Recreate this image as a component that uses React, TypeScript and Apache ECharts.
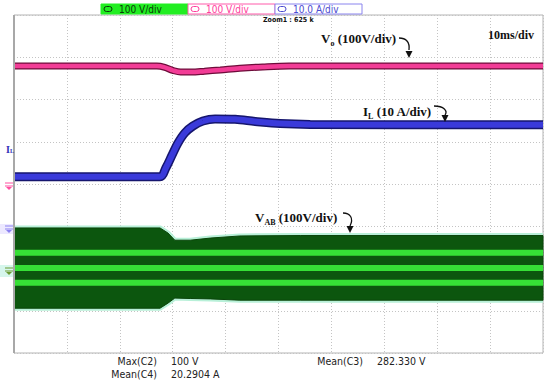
import React, { useEffect, useRef } from "react";
import * as echarts from "echarts";

// time axis in ms (10 ms/div), vertical values in screen divisions (8 div, -4..4)
const xTicks = [0, 10, 20, 30, 40, 50, 60, 70, 80, 90, 100];

const timeVo = [0, 27.0, 28.5, 30.0, 31.5, 33.5, 36.0, 39.0, 42.7, 47.0, 52.0, 100];
const vo = [2.79, 2.79, 2.76, 2.69, 2.65, 2.65, 2.67, 2.7, 2.74, 2.77, 2.79, 2.79];

const timeIL = [0, 27.6, 28.7, 29.9, 31.0, 32.3, 33.8, 35.7, 38.0, 41.8, 45.6, 50.3, 56.0, 100];
const il = [0.17, 0.17, 0.38, 0.69, 0.97, 1.21, 1.37, 1.49, 1.54, 1.53, 1.48, 1.43, 1.41, 1.4];

const timeVab = [0, 27.6, 29.1, 30.4, 33.3, 37.1, 42.7, 54.1, 100];
const vabTop = [-1.04, -1.04, -1.16, -1.33, -1.33, -1.28, -1.23, -1.22, -1.22];
const vabBottom = [-2.94, -2.94, -2.82, -2.7, -2.71, -2.72, -2.75, -2.75, -2.75];
const vabStripes = [-1.63, -1.99, -2.34];

const channelScales = ["100 V/div", "100 V/div", "10.0 A/div"];
const measureNames = ["Max(C2)", "Mean(C4)", "Mean(C3)"];
const measureValues = ["100 V", "20.2904 A", "282.330 V"];

const pair = (t: number[], v: number[]) => t.map((x, i) => [x, v[i]]);

const SANS = "'DejaVu Sans Condensed', 'Liberation Sans Narrow', 'DejaVu Sans', sans-serif";
const SERIF = "'Liberation Serif', 'DejaVu Serif', serif";

function arrow(x1: number, y1: number, cx1: number, cy1: number, cx2: number, cy2: number, x2: number, y2: number, tipX: number, tipY: number) {
  return [
    {
      type: "bezierCurve",
      shape: { x1, y1, cpx1: cx1, cpy1: cy1, cpx2: cx2, cpy2: cy2, x2, y2 },
      style: { stroke: "#111", lineWidth: 1.3, fill: null },
      z: 20,
    },
    {
      type: "polygon",
      shape: { points: [[tipX - 3.5, tipY - 7], [tipX + 3.5, tipY - 7], [tipX, tipY]] },
      style: { fill: "#111" },
      z: 20,
    },
  ];
}

function ground(x: number, y: number, color: string) {
  return [
    { type: "line", shape: { x1: x - 4, y1: y - 3, x2: x + 4, y2: y - 3 }, style: { stroke: color, lineWidth: 1 }, z: 20 },
    { type: "line", shape: { x1: x - 4, y1: y, x2: x + 4, y2: y }, style: { stroke: color, lineWidth: 1 }, z: 20 },
    { type: "polygon", shape: { points: [[x - 3, y + 1], [x + 3, y + 1], [x, y + 4]] }, style: { fill: color }, z: 20 },
  ];
}

export default function App() {
  const ref = useRef<HTMLDivElement>(null);
  useEffect(() => {
    if (!ref.current) return;
    const chart = echarts.init(ref.current, null, { renderer: "svg" });
    const axisCommon = {
      type: "value",
      axisLine: { show: false },
      axisTick: { show: false },
      axisLabel: { show: false },
      splitLine: { show: true, lineStyle: { color: "#c4c4c4", type: [1, 2], width: 1 } },
    };
    const boxColors = [
      { fill: "#22ee22", stroke: "#22ee22", text: "#0a3a0a" },
      { fill: "#ffffff", stroke: "#ff5aaa", text: "#ff3c9c" },
      { fill: "#ffffff", stroke: "#8a84ee", text: "#4a4ad0" },
    ];
    const boxes: any[] = [];
    channelScales.forEach((s, i) => {
      const x0 = 101 + i * 87;
      const c = boxColors[i];
      boxes.push({ type: "rect", shape: { x: x0, y: 4, width: 87, height: 10 }, style: { fill: c.fill, stroke: c.stroke, lineWidth: 1 }, z: 20 });
      boxes.push({ type: "rect", shape: { x: x0 + 3, y: 6.5, width: 8, height: 5, r: 2.5 }, style: { fill: null, stroke: c.text, lineWidth: 1 }, z: 21 });
      boxes.push({ type: "text", x: x0 + 18, y: 9.5, style: { text: s, font: `10px ${SANS}`, fill: c.text, textVerticalAlign: "middle" }, z: 21 });
    });
    const mStyle = (text: string, align: string) => ({
      text,
      font: `10.5px ${SANS}`,
      fill: "#222",
      textAlign: align,
      textVerticalAlign: "middle",
    });
    const measures: any[] = [
      { type: "text", x: 157, y: 361, style: mStyle(measureNames[0], "right") },
      { type: "text", x: 171, y: 361, style: mStyle(measureValues[0], "left") },
      { type: "text", x: 157, y: 374, style: mStyle(measureNames[1], "right") },
      { type: "text", x: 171, y: 374, style: mStyle(measureValues[1], "left") },
      { type: "text", x: 363, y: 361, style: mStyle(measureNames[2], "right") },
      { type: "text", x: 377, y: 361, style: mStyle(measureValues[2], "left") },
    ];
    const richLabel = (x: number, y: number, main: string, sub: string, rest: string) => ({
      type: "text",
      x,
      y,
      z: 20,
      style: {
        text: `{a|${main}}{s|${sub}}{a|${rest}}`,
        textVerticalAlign: "middle",
        rich: {
          a: { font: `bold 13px ${SERIF}`, fill: "#111", lineHeight: 16, verticalAlign: "bottom" },
          s: { font: `bold 8px ${SERIF}`, fill: "#111", lineHeight: 16, verticalAlign: "bottom", padding: [0, 0, -2, 0] },
        },
      },
    });

    const vabTopPts = pair(timeVab, vabTop);
    const vabBottomPts = pair(timeVab, vabBottom);

    const option: any = {
      animation: false,
      backgroundColor: "#ffffff",
      grid: { left: 14, top: 15, right: 7, bottom: 29, show: true, borderColor: "#b4b4b4", borderWidth: 1 },
      xAxis: { ...axisCommon, min: xTicks[0], max: xTicks[xTicks.length - 1], interval: 10 },
      yAxis: { ...axisCommon, min: -4, max: 4, interval: 1 },
      series: [
        // VAB halo
        { type: "line", data: vabTopPts, symbol: "none", z: 1, lineStyle: { color: "#b8f0d8", width: 5 } },
        { type: "line", data: vabBottomPts, symbol: "none", z: 1, lineStyle: { color: "#b8f0d8", width: 5 } },
        // VAB band (polygon between bottom and top envelopes)
        {
          type: "custom",
          z: 2,
          data: [[timeVab[0], vabTop[0]]],
          renderItem: (params: any, api: any) => {
            const pts = vabTopPts.map((p) => api.coord(p)).concat(vabBottomPts.slice().reverse().map((p) => api.coord(p)));
            return {
              type: "polygon",
              shape: { points: pts },
              style: { fill: "#0c560e", stroke: "#0a440a", lineWidth: 1 },
            };
          },
        },
        // VAB bright stripes
        ...vabStripes.map((v) => ({
          type: "line",
          data: [[xTicks[0], v], [xTicks[xTicks.length - 1], v]],
          symbol: "none",
          z: 3,
          lineStyle: { color: "#36e036", width: 6 },
        })),
        // IL
        { type: "line", data: pair(timeIL, il), symbol: "none", smooth: 0.35, z: 4, lineStyle: { color: "#16166e", width: 9 } },
        { type: "line", data: pair(timeIL, il), symbol: "none", smooth: 0.35, z: 5, lineStyle: { color: "#3a3ada", width: 6 } },
        // Vo
        { type: "line", data: pair(timeVo, vo), symbol: "none", smooth: 0.35, z: 6, lineStyle: { color: "#6e0c3a", width: 7 } },
        { type: "line", data: pair(timeVo, vo), symbol: "none", smooth: 0.35, z: 7, lineStyle: { color: "#f23c96", width: 4.5 } },
      ],
      graphic: [
        { type: "line", shape: { x1: 14, y1: 15, x2: 14, y2: 353 }, style: { stroke: "#a8a8a8", lineWidth: 2 }, z: 19 },
        ...boxes,
        { type: "text", x: 263, y: 20, z: 20, style: { text: "Zoom1 : 625 k", font: `bold 7px ${SANS}`, fill: "#111", textVerticalAlign: "middle" } },
        richLabel(321, 37, "V", "o", " (100V/div)"),
        { type: "text", x: 488, y: 35, z: 20, style: { text: "10ms/div", font: `bold 12px ${SERIF}`, fill: "#111", textVerticalAlign: "middle" } },
        richLabel(363, 110, "I", "L", " (10 A/div)"),
        richLabel(255, 216, "V", "AB", " (100V/div)"),
        ...arrow(399, 38, 406, 38, 410, 42, 409, 50, 409, 58),
        ...arrow(434, 106, 444, 106, 448, 111, 445, 115, 445, 122),
        ...arrow(343, 213, 350, 213, 354, 218, 350, 226, 350, 233),
        // left channel markers
        { type: "rect", shape: { x: 0, y: 224, width: 13, height: 10 }, style: { fill: "#ece8ff" }, z: 18 },
        { type: "rect", shape: { x: 0, y: 265, width: 13, height: 12 }, style: { fill: "#d6f6ec" }, z: 18 },
        {
          type: "text",
          x: 6,
          y: 148,
          z: 20,
          style: {
            text: "{a|I}{s|L}",
            textVerticalAlign: "middle",
            rich: {
              a: { font: `bold 10px ${SERIF}`, fill: "#3030b8", verticalAlign: "bottom", lineHeight: 12 },
              s: { font: `bold 6px ${SERIF}`, fill: "#3030b8", verticalAlign: "bottom", lineHeight: 12 },
            },
          },
        },
        ...ground(9, 186, "#ff4fa0"),
        ...ground(9, 229, "#8a80f0"),
        ...ground(9, 271, "#6a9a30"),
        ...measures,
      ],
    };
    chart.setOption(option);
    return () => chart.dispose();
  }, []);
  return <div ref={ref} style={{ position: "absolute", left: 0, top: 0, width: 550, height: 382 }} />;
}
